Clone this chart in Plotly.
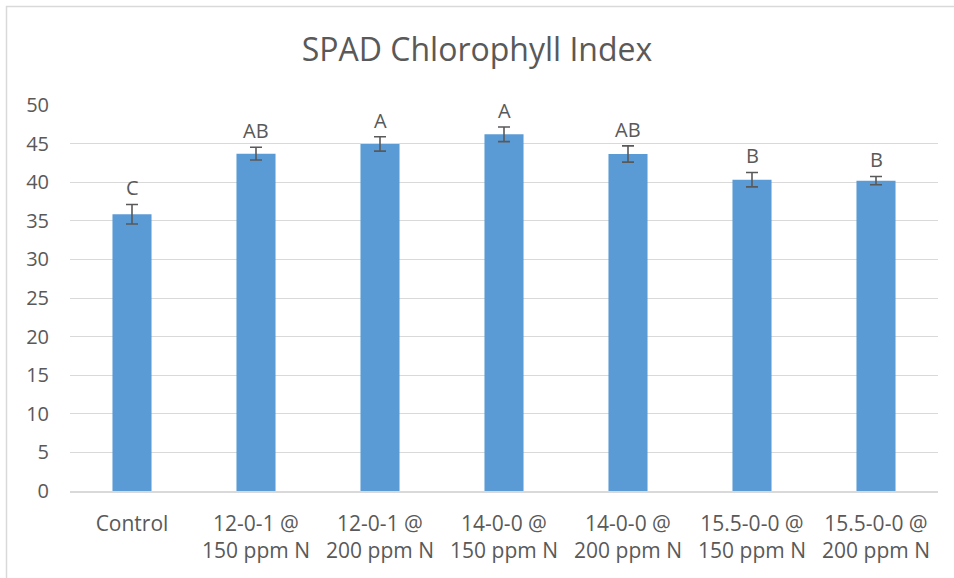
import plotly.graph_objects as go

categories = ["Control", "12-0-1 @<br>150 ppm N", "12-0-1 @<br>200 ppm N",
              "14-0-0 @<br>150 ppm N", "14-0-0 @<br>200 ppm N",
              "15.5-0-0 @<br>150 ppm N", "15.5-0-0 @<br>200 ppm N"]
values = [35.85, 43.7, 44.95, 46.2, 43.65, 40.33, 40.2]
errors = [1.27, 0.82, 0.93, 0.95, 1.05, 0.93, 0.54]
letters = ["C", "AB", "A", "A", "AB", "B", "B"]
y_ticks = [0, 5, 10, 15, 20, 25, 30, 35, 40, 45, 50]

FONT = "Open Sans"
TXT = "#595959"
GRID = "#D9D9D9"

fig = go.Figure()
fig.add_trace(go.Bar(
    x=categories, y=values,
    marker=dict(color="#5B9BD5", line=dict(width=0)),
    error_y=dict(type="data", array=errors, visible=True,
                 color="#595959", thickness=1.6, width=6),
    width=0.315,
    hoverinfo="x+y",
))

for c, v, e, t in zip(categories, values, errors, letters):
    fig.add_annotation(x=c, y=v + e, text=t, showarrow=False,
                       yanchor="bottom", yshift=1,
                       font=dict(family=FONT, size=20, color=TXT))

# outer chart frame (partially cropped in the reference)
x0 = (6.5 - 70) / 868
y0 = (491 - 6.5) / 386
fig.add_shape(type="path", xref="paper", yref="paper",
              path=f"M {x0} -0.3 L {x0} {y0} L 1.1 {y0}",
              line=dict(color=GRID, width=1.5))

fig.update_layout(
    width=954, height=578,
    margin=dict(l=70, r=16, t=578 - 87 - 386, b=87),
    paper_bgcolor="white", plot_bgcolor="white",
    showlegend=False,
    title=dict(text="SPAD Chlorophyll Index", x=0.5, xanchor="center",
               y=1 - 50 / 578, yanchor="middle", yref="container",
               font=dict(family=FONT, size=32, color=TXT)),
    font=dict(family=FONT, color=TXT),
    xaxis=dict(showgrid=False, showline=True, linecolor=GRID, linewidth=1.5,
               ticks="", ticklabelstandoff=13,
               tickfont=dict(family=FONT, size=21, color=TXT)),
    yaxis=dict(range=[0, 50], tickvals=y_ticks, showgrid=True, gridcolor=GRID,
               gridwidth=1.3, zeroline=False, showline=False,
               ticklabelstandoff=20,
               tickfont=dict(family=FONT, size=20, color=TXT)),
)

fig.write_html("out.html", config={"displayModeBar": False},
               post_script="document.body.style.margin='0';document.body.style.overflow='hidden';")
